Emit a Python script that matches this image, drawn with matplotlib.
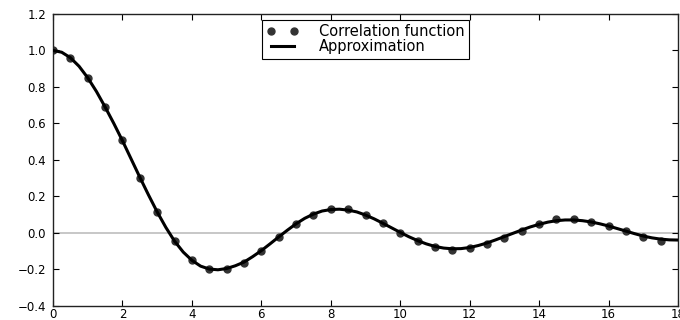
"""
plot.py - correlation function and its damped-oscillation approximation.

Run:  python plot.py   ->  out.png (680x320)
"""

import matplotlib

matplotlib.use("Agg")  # headless backend
import matplotlib.pyplot as plt

# Sampled correlation function (every 0.5 units of lag).
corr_x = [0.0, 0.5, 1.0, 1.5, 2.0, 2.5, 3.0, 3.5, 4.0, 4.5, 5.0, 5.5,
          6.0, 6.5, 7.0, 7.5, 8.0, 8.5, 9.0, 9.5, 10.0, 10.5, 11.0, 11.5,
          12.0, 12.5, 13.0, 13.5, 14.0, 14.5, 15.0, 15.5, 16.0, 16.5, 17.0, 17.5]
corr_y = [1.00, 0.96, 0.85, 0.69, 0.51, 0.30, 0.115, -0.047, -0.15, -0.20, -0.20, -0.165,
          -0.10, -0.022, 0.048, 0.10, 0.13, 0.13, 0.10, 0.056, 0.0, -0.044, -0.075, -0.092,
          -0.08, -0.062, -0.026, 0.011, 0.05, 0.075, 0.075, 0.062, 0.04, 0.01, -0.024, -0.042]

# Approximation curve, read off every 0.25 units.
approx_x = [0.0, 0.25, 0.5, 0.75, 1.0, 1.25, 1.5, 1.75, 2.0, 2.25, 2.5, 2.75,
            3.0, 3.25, 3.5, 3.75, 4.0, 4.25, 4.5, 4.75, 5.0, 5.25, 5.5, 5.75,
            6.0, 6.25, 6.5, 6.75, 7.0, 7.25, 7.5, 7.75, 8.0, 8.25, 8.5, 8.75,
            9.0, 9.25, 9.5, 9.75, 10.0, 10.25, 10.5, 10.75, 11.0, 11.25, 11.5, 11.75,
            12.0, 12.25, 12.5, 12.75, 13.0, 13.25, 13.5, 13.75, 14.0, 14.25, 14.5, 14.75,
            15.0, 15.25, 15.5, 15.75, 16.0, 16.25, 16.5, 16.75, 17.0, 17.25, 17.5, 17.75,
            18.0]
approx_y = [1.000, 0.990, 0.960, 0.913, 0.850, 0.775, 0.690, 0.600, 0.505, 0.405, 0.305, 0.208,
            0.115, 0.030, -0.045, -0.105, -0.150, -0.182, -0.198, -0.202, -0.195, -0.180, -0.160, -0.130,
            -0.097, -0.060, -0.022, 0.015, 0.050, 0.080, 0.103, 0.120, 0.128, 0.130, 0.125, 0.115,
            0.098, 0.077, 0.053, 0.028, 0.003, -0.021, -0.042, -0.060, -0.074, -0.083, -0.087, -0.086,
            -0.080, -0.069, -0.055, -0.038, -0.020, -0.002, 0.016, 0.033, 0.047, 0.059, 0.067, 0.071,
            0.071, 0.067, 0.060, 0.050, 0.038, 0.024, 0.010, -0.004, -0.017, -0.027, -0.034, -0.038,
            -0.039]

x_ticks = [0, 2, 4, 6, 8, 10, 12, 14, 16, 18]
y_ticks = [-0.4, -0.2, 0.0, 0.2, 0.4, 0.6, 0.8, 1.0, 1.2]


def main() -> None:
    fig = plt.figure(figsize=(6.8, 3.2), dpi=100)
    ax = fig.add_axes([0.078, 0.044, 0.919, 0.9125])

    # zero reference line sits under the data
    ax.axhline(0.0, color="#bdbdbd", linewidth=1.2, zorder=1)

    ax.plot(corr_x, corr_y, linestyle="none", marker="o", markersize=5,
            color="#333333", markeredgecolor="#333333", label="Correlation function", zorder=2)
    ax.plot(approx_x, approx_y, color="black", linewidth=2.2, label="Approximation", zorder=3)

    ax.set_xlim(0, 18)
    ax.set_ylim(-0.4, 1.2)
    ax.set_xticks(x_ticks)
    ax.set_yticks(y_ticks)
    ax.set_yticklabels([f"{v:.1f}".replace("-", "\u2212") for v in y_ticks])

    # old-style axes: inward ticks on every side
    ax.tick_params(direction="in", top=True, right=True, length=4, labelsize=8.5)
    ax.tick_params(axis="x", pad=1.5)
    ax.tick_params(axis="y", pad=5)
    for spine in ax.spines.values():
        spine.set_color("#222222")
        spine.set_linewidth(1.0)

    leg = ax.legend(loc="upper center", numpoints=2, fontsize=10.5, fancybox=False,
                    framealpha=1, edgecolor="black", borderpad=0.3, labelspacing=0.0,
                    handlelength=2.2, handletextpad=1.4, borderaxespad=0.4)
    leg.get_frame().set_linewidth(0.8)

    fig.savefig("out.png", dpi=100)
    plt.close(fig)


if __name__ == "__main__":
    main()
